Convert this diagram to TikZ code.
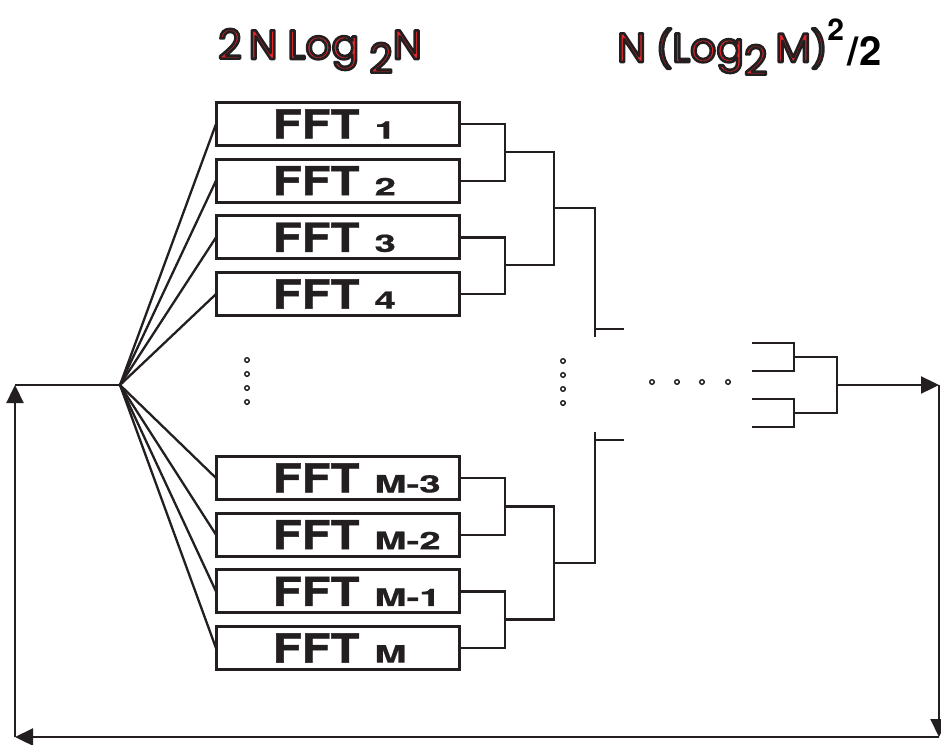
\documentclass[tikz,border=0pt]{standalone}
\usepackage{fontspec}
\setmainfont{Poppins}
\newfontfamily\fftfont[FakeStretch=1.18, FakeBold=1.2]{TeX Gyre Heros}
\newfontfamily\fftsubfont[FakeStretch=1.6, FakeBold=0.8]{TeX Gyre Heros}
\newfontfamily\costheavy{TeX Gyre Heros}
\usepackage{tikz}
\usetikzlibrary{arrows.meta, positioning, calc}
\definecolor{costred}{HTML}{E8262A}
\definecolor{costink}{HTML}{231F20}
% red letters with a dark rim, as in the cost labels
\newcommand{\redoutline}[1]{{\color{costred}\special{pdf:literal direct 0.137 0.122 0.125 RG 2.6 w 1 j 2 Tr}#1\special{pdf:literal direct 0 Tr}}}
\newcommand{\fftlabel}[1]{\hspace*{57pt}{\fftfont\bfseries FFT}\hspace{15pt}{\fftsubfont\bfseries\fontsize{24}{24}\selectfont #1}}

\begin{document}
\begin{tikzpicture}[
  x=1pt, y=-1pt,
  fftbox/.style={
    rectangle, draw=costink, line width=3pt, text=costink, outer sep=0pt,
    text width=243pt, minimum height=43pt, align=left, inner sep=0pt,
    text height=29pt, text depth=0pt, font=\fontsize{40}{48}\selectfont
  },
  costlbl/.style={anchor=base west, inner sep=0pt, font=\fontsize{41}{48}\selectfont},
  wire/.style={draw=costink, line width=2.3pt},
  tip/.style={-{Triangle[length=18pt, width=17pt]}},
  dot/.style={draw=costink, line width=1.4pt, fill=white},
  node distance=13.7pt,
]
\useasboundingbox (0,0) rectangle (941,744);

% cost of each stage
\node[costlbl] (cost1) at (218,59) {\redoutline{2\hspace{7pt}N\hspace{10pt}Log\hspace{10pt}\raisebox{-14pt}{2}N}};
\node[costlbl] (cost2) at (617,62) {\redoutline{N\hspace{10pt}{\fontsize{36}{36}\selectfont(}Log\raisebox{-13pt}{2}\hspace{8pt}M{\fontsize{36}{36}\selectfont)}}\raisebox{22pt}{\costheavy\bfseries\fontsize{30}{30}\selectfont 2}\hspace{4pt}\raisebox{-3pt}{\costheavy\bfseries\fontsize{40}{40}\selectfont /2}};

% FFT blocks, upper group
\node[fftbox] (fft1) at (337.5,124) {\fftlabel{1}};
\node[fftbox, below=of fft1] (fft2) {\fftlabel{2}};
\node[fftbox, below=of fft2] (fft3) {\fftlabel{3}};
\node[fftbox, below=of fft3] (fft4) {\fftlabel{4}};

% FFT blocks, lower group
\node[fftbox] (fftm3) at (337.5,478) {\fftlabel{M-3}};
\node[fftbox, below=of fftm3] (fftm2) {\fftlabel{M-2}};
\node[fftbox, below=of fftm2] (fftm1) {\fftlabel{M-1}};
\node[fftbox, below=of fftm1] (fftm) {\fftlabel{M}};

% input split to every block
\coordinate (split) at (120,385);
\foreach \b in {fft1,fft2,fft3,fft4,fftm3,fftm2,fftm1,fftm}
  \draw[wire] (split) -- (\b.west);

% ellipses
\foreach \y in {360,374,388,402} {
  \draw[dot] (247,\y) circle[radius=2.3pt];
  \draw[dot] (563,\y+1) circle[radius=2.3pt];
}
\foreach \x in {652,677,702,728}
  \draw[dot] (\x,382) circle[radius=2.3pt];

% merge tree, upper half
\coordinate (m12) at (505,152);
\coordinate (m34) at (505,265);
\coordinate (m14) at (554,208);
\coordinate (t14) at (595,329);
\draw[wire] (fft1.east) -| (m12) |- (fft2.east);
\draw[wire] (fft3.east) -| (m34) |- (fft4.east);
\draw[wire] (m12) -| (m14) |- (m34);
\draw[wire] (m14) -| ($(t14)+(0,8)$);
\draw[wire] (t14) -- ++(29,0);

% merge tree, lower half
\coordinate (mm32) at (505,506.5);
\coordinate (mm10) at (505,619.5);
\coordinate (mmb) at (554,563);
\coordinate (tmb) at (595,440);
\draw[wire] (fftm3.east) -| (mm32) |- (fftm2.east);
\draw[wire] (fftm1.east) -| (mm10) |- (fftm.east);
\draw[wire] (mm32) -| (mmb) |- (mm10);
\draw[wire] (mmb) -| ($(tmb)+(0,-8)$);
\draw[wire] (tmb) -- ++(29,0);

% last merge stages
\coordinate (r1) at (752,343);
\coordinate (r2) at (752,371);
\coordinate (r3) at (752,399);
\coordinate (r4) at (752,427);
\coordinate (r12) at (794,357);
\coordinate (r34) at (794,413);
\coordinate (rout) at (837,385);
\draw[wire] (r1) -| (r12) |- (r2);
\draw[wire] (r3) -| (r34) |- (r4);
\draw[wire] (r12) -| (rout) |- (r34);

% feedback loop
\coordinate (rt) at (939,385);
\coordinate (rb) at (939,737);
\coordinate (lb) at (15,737);
\coordinate (lt) at (15,385);
\draw[wire, tip] (rout) -- (rt);
\draw[wire, tip] (rt) -- (rb);
\draw[wire, tip] (rb) -- (lb);
\draw[wire, tip] (lb) -- (lt);
\draw[wire] (lt) -- (split);
\end{tikzpicture}
\end{document}
